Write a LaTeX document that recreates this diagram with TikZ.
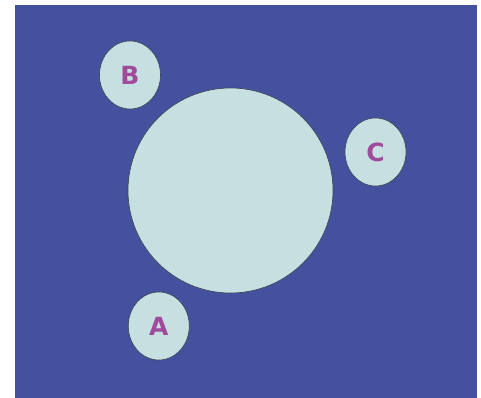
\documentclass[tikz,border=0pt]{standalone}
\usetikzlibrary{shapes.geometric}
\usepackage{fontspec}
\setmainfont{DejaVu Sans}
\definecolor{bgblue}{HTML}{44519E}
\definecolor{lightfill}{HTML}{C6DFE0}
\definecolor{lettercol}{HTML}{A04A9C}
\definecolor{edgecol}{HTML}{3A4450}
\begin{document}
\begin{tikzpicture}[x=1pt,y=1pt,
  blob/.style={ellipse, draw=edgecol, line width=0.6pt, fill=lightfill, minimum width=61pt, minimum height=68pt, inner sep=0pt, text=lettercol, font=\bfseries\fontsize{25}{25}\selectfont},
  bigc/.style={circle, draw=edgecol, line width=0.6pt, fill=lightfill, minimum size=205pt, inner sep=0pt}]
\useasboundingbox (0,0) rectangle (481,398);
\fill[bgblue] (15,0) rectangle (476.5,393);
\node[bigc] (big) at (230.5,207.5) {};
\node[blob] (B) at (130,323) {B};
\node[blob] (C) at (375.5,246) {C};
\node[blob] (A) at (158.8,72) {A};
\end{tikzpicture}
\end{document}
